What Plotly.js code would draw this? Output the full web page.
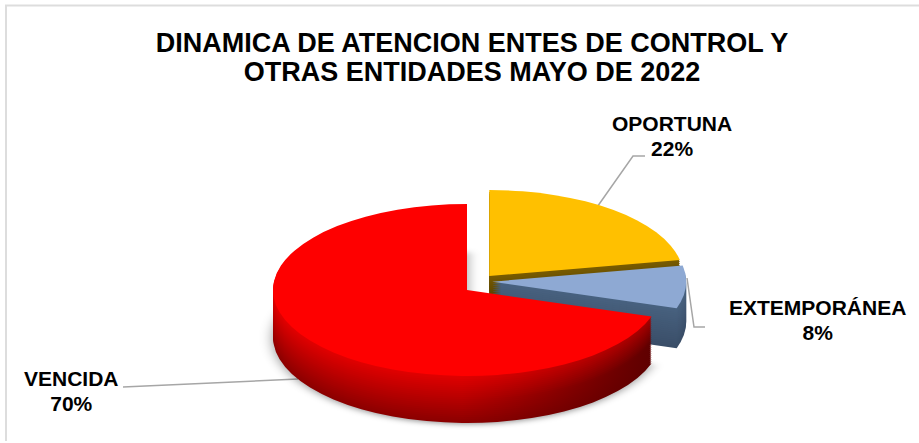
<!DOCTYPE html>
<html><head><meta charset="utf-8">
<script src="https://cdn.plot.ly/plotly-3.0.1.min.js"></script>
<style>html,body{margin:0;padding:0;background:#fff;overflow:hidden}#chart{width:919px;height:443px}</style>
</head><body><div id="chart"></div>
<script>
const categories = ["OPORTUNA", "EXTEMPORÁNEA", "VENCIDA"];
const shares = [22, 8, 70];
const chartTitle = "DINAMICA DE ATENCION ENTES DE CONTROL Y<br>OTRAS ENTIDADES MAYO DE 2022";
const topColors = ["#FFC000", "#8EA9D3", "#FE0000"];
const wallTop = [[122, 92, 0], [72, 98, 128], [226, 0, 0]];
const wallBottom = [[90, 70, 0], [58, 78, 104], [140, 0, 0]];
const pulls = [0.18, 0.13, 0];
const sliceLift = [-2, -9, 0];
const sliceDepth = [20, 40, 47];

const W = 919, H = 443;
const CX = 467, CY = 290, RX = 194, RY = 86, STEP = 2;
const clear = "rgba(0,0,0,0)";
const px = x => x / W, py = y => 1 - y / H;

function pieTrace(colors) {
  return {type: "pie", labels: categories, values: shares, sort: false, direction: "clockwise",
    rotation: 0, pull: pulls, textinfo: "none", hoverinfo: "skip", showlegend: false,
    domain: {x: [0, 1], y: [0, 1]}, marker: {colors: colors, line: {width: 0}}};
}
function mix(a, b, t) {
  return "rgb(" + a.map((v, i) => Math.round(v + (b[i] - v) * t)).join(",") + ")";
}
const only = (s, c) => categories.map((_, i) => i === s ? c : clear);
const traces = [], offsets = [], wallInfo = [];
[0, 1, 2].forEach(s => {
  for (let d = sliceDepth[s]; d > 0; d -= STEP) {
    const t = d / sliceDepth[s];
    traces.push(pieTrace(only(s, mix(wallTop[s], wallBottom[s], t))));
    offsets.push(d + sliceLift[s]);
    wallInfo.push({s: s, t: t, bottom: d === sliceDepth[s]});
  }
});
[0, 1, 2].forEach(s => {
  traces.push(pieTrace(only(s, topColors[s])));
  offsets.push(sliceLift[s]);
  wallInfo.push(null);
});

const labelPos = [[672, 137], [817, 321], [71, 392]];
const annotations = categories.map((c, i) => ({
  text: "<b>" + c + "<br>" + shares[i] + "%</b>", x: px(labelPos[i][0]), y: py(labelPos[i][1]),
  xref: "paper", yref: "paper", xanchor: "center", yanchor: "middle", showarrow: false, align: "center",
  font: {family: "Liberation Sans, Arial, sans-serif", size: 21, color: "#000"}
}));
const poly = pts => "M" + pts.map(p => px(p[0]) + "," + py(p[1])).join("L");
const leaders = [[[645,156],[633,156],[595,210]], [[705,327],[694,327],[687,278]], [[123,387],[298,379]]];
const lineShapes = leaders.map(p => ({type: "path", xref: "paper", yref: "paper", path: poly(p), layer: "below",
  line: {color: "#a6a6a6", width: 1.5}}));
const frame = {type: "path", xref: "paper", yref: "paper", layer: "below", path: poly([[6,441],[6,5.5],[919,5.5]]),
  line: {color: "#dddddd", width: 2}};

const layout = {
  width: W, height: H, margin: {l: 0, r: 0, t: 0, b: 0}, paper_bgcolor: "#fff",
  title: {text: "<b>" + chartTitle + "</b>", x: px(472), xanchor: "center", y: py(52), yanchor: "middle",
    font: {family: "Liberation Sans, Arial, sans-serif", size: 27, color: "#000"}},
  annotations: annotations, shapes: [frame].concat(lineShapes)
};
Plotly.newPlot("chart", traces, layout, {staticPlot: true, displayModeBar: false}).then(() => {
  const R0 = Math.min(W, H) / (2 * (1 + Math.max(...pulls)));
  const sx = RX / R0, sy = RY / R0;
  const svg = document.querySelector("#chart svg.main-svg");
  const NS = "http://www.w3.org/2000/svg";
  let defs = svg.querySelector("defs");
  document.querySelectorAll("#chart .pielayer .trace").forEach((g, i) => {
    g.setAttribute("transform",
      `translate(${CX},${CY + offsets[i]}) scale(${sx},${sy}) translate(${-W / 2},${-H / 2})`);
    const info = wallInfo[i];
    if (info && info.bottom && info.s === 2) g.style.filter = "drop-shadow(0 3px 6px rgba(0,0,0,.4))";
    if (info && info.s === 2) {
      const grad = document.createElementNS(NS, "linearGradient");
      grad.id = "wall" + i;
      const base = mix(wallTop[2], wallBottom[2], info.t);
      const dark = mix(wallTop[2], [95, 0, 0], Math.min(1, info.t + 0.45));
      [[0, base], [0.5, base], [1, dark]].forEach(st => {
        const e = document.createElementNS(NS, "stop");
        e.setAttribute("offset", st[0]); e.setAttribute("stop-color", st[1]);
        grad.appendChild(e);
      });
      defs.appendChild(grad);
      g.querySelectorAll("path.surface").forEach((p, k) => {
        if (k === info.s) p.style.fill = `url(#wall${i})`;
      });
    }
  });
  document.querySelectorAll("#chart .gtitle tspan.line").forEach((t, i) => {
    if (i > 0) t.setAttribute("dy", "1.07em");
  });
  document.querySelectorAll("#chart .annotation-text tspan.line").forEach((t, i) => {
    if (i % 2) t.setAttribute("dy", "1.17em");
  });
});
</script></body></html>
